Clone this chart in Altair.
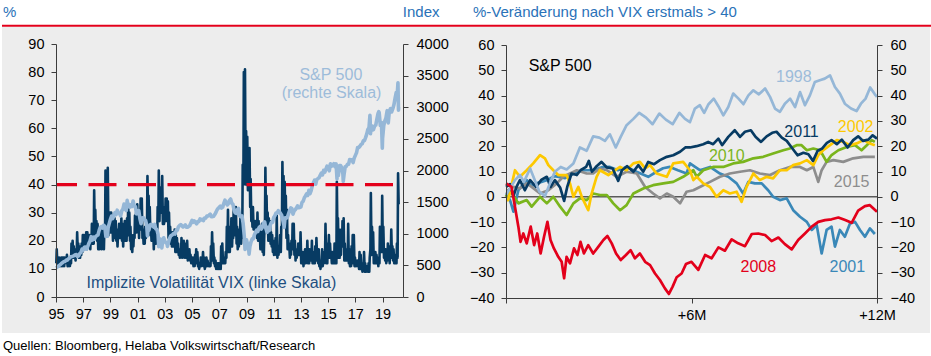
import altair as alt
import pandas as pd

FONT = "Liberation Sans"
NAVY = "#073b63"
LIGHT = "#95b7d7"
RED = "#e3001b"
YEL = "#fdc800"
GRN = "#7ab51d"
BLUE2 = "#3a88b8"
GRAY = "#8d8d8d"
TITLE_BLUE = "#2a72b8"

# ---------------- Left panel data ----------------
# VIX monthly low / high
vix_low = {
    1995: [12, 11, 11, 11, 11, 11, 11, 11, 12, 13, 11, 11],
    1996: [11, 12, 15, 14, 14, 13, 15, 16, 14, 14, 15, 16],
    1997: [17, 17, 18, 17, 18, 18, 17, 19, 19, 19, 22, 21],
    1998: [20, 17, 17, 18, 17, 19, 17, 22, 30, 25, 22, 23],
    1999: [23, 23, 20, 22, 21, 20, 18, 21, 21, 21, 20, 18],
    2000: [20, 20, 20, 23, 22, 20, 17, 16, 18, 21, 23, 23],
    2001: [24, 21, 25, 24, 21, 19, 19, 21, 25, 28, 24, 22],
    2002: [20, 21, 17, 20, 19, 20, 27, 27, 30, 30, 26, 26],
    2003: [27, 28, 27, 21, 20, 19, 18, 18, 19, 16, 16, 16],
    2004: [15, 14, 15, 14, 15, 14, 14, 14, 13, 14, 13, 12],
    2005: [12, 11, 11, 12, 12, 11, 10, 11, 11, 13, 11, 10],
    2006: [11, 11, 11, 11, 11, 15, 13, 12, 11, 10, 10, 10],
    2007: [10, 10, 14, 12, 12, 12, 14, 20, 16, 16, 18, 18],
    2008: [21, 22, 22, 19, 17, 18, 21, 19, 21, 40, 45, 40],
    2009: [40, 38, 40, 32, 27, 25, 24, 24, 23, 21, 20, 20],
    2010: [17, 19, 16, 15, 25, 26, 23, 20, 21, 19, 18, 16],
    2011: [15, 17, 15, 14, 15, 16, 16, 25, 31, 25, 27, 21],
    2012: [17, 17, 14, 15, 17, 17, 15, 13, 14, 15, 15, 15],
    2013: [12, 12, 11, 12, 12, 15, 12, 12, 13, 13, 12, 12],
    2014: [12, 13, 14, 12, 11, 10, 11, 11, 12, 14, 12, 12],
    2015: [16, 14, 14, 12, 12, 12, 12, 12, 20, 14, 14, 15],
    2016: [18, 19, 13, 13, 13, 14, 12, 11, 11, 13, 12, 11],
    2017: [11, 11, 11, 10, 10, 10, 9, 10, 9, 9, 9, 9],
    2018: [9, 17, 15, 16, 12, 12, 12, 12, 11, 12, 18, 16],
    2019: [16, 14, 13, 12, 13, 14, 12, 16, 14, 13, 12, 12],
    2020: [12, 14],
}
vix_high = {
    1995: [17, 14, 14, 13, 14, 14, 14, 14, 14, 15, 13, 13],
    1996: [14, 19, 20, 18, 16, 17, 23, 19, 17, 18, 19, 22],
    1997: [22, 22, 23, 23, 21, 22, 22, 26, 23, 38, 31, 27],
    1998: [26, 22, 21, 24, 22, 25, 24, 45, 42, 46, 30, 30],
    1999: [30, 29, 28, 28, 27, 24, 22, 26, 25, 28, 24, 26],
    2000: [27, 25, 28, 33, 30, 25, 22, 20, 22, 29, 30, 33],
    2001: [29, 28, 35, 35, 24, 23, 25, 27, 43, 36, 32, 26],
    2002: [25, 25, 22, 24, 25, 32, 45, 36, 39, 43, 32, 30],
    2003: [35, 35, 34, 30, 25, 22, 23, 22, 24, 22, 21, 19],
    2004: [17, 17, 21, 18, 20, 16, 19, 20, 16, 17, 15, 14],
    2005: [14, 13, 15, 17, 16, 12, 12, 14, 13, 16, 14, 12],
    2006: [14, 13, 12, 12, 18, 23, 19, 14, 13, 12, 12, 12],
    2007: [12, 18, 19, 14, 14, 16, 25, 31, 25, 21, 28, 23],
    2008: [31, 28, 32, 25, 19, 24, 29, 22, 47, 80, 81, 59],
    2009: [57, 47, 53, 42, 32, 32, 27, 27, 27, 30, 27, 24],
    2010: [25, 26, 20, 22, 46, 36, 30, 28, 27, 23, 22, 19],
    2011: [20, 21, 29, 16, 18, 22, 25, 48, 43, 41, 36, 31],
    2012: [22, 19, 17, 20, 26, 26, 20, 17, 17, 19, 19, 23],
    2013: [15, 16, 16, 17, 16, 20, 15, 17, 16, 20, 14, 16],
    2014: [18, 21, 17, 17, 13, 13, 17, 16, 16, 26, 14, 19],
    2015: [22, 19, 16, 16, 14, 19, 18, 41, 28, 24, 20, 24],
    2016: [27, 28, 19, 16, 17, 26, 17, 14, 18, 22, 22, 14],
    2017: [13, 13, 13, 16, 15, 12, 11, 16, 12, 11, 11, 12],
    2018: [14, 37, 25, 23, 16, 16, 15, 14, 14, 25, 22, 36],
    2019: [25, 17, 17, 14, 19, 18, 17, 24, 18, 17, 13, 15],
    2020: [19, 44],
}
vix_end_t = [2020.18]
vix_end_v = [33]
vix_threshold = 40

# S&P 500 month-end closes
spx_start = 459
spx_close = {
    1995: [470, 487, 501, 515, 533, 545, 562, 562, 584, 582, 605, 616],
    1996: [636, 640, 646, 654, 669, 671, 640, 652, 687, 705, 757, 741],
    1997: [786, 791, 757, 801, 848, 885, 954, 899, 947, 915, 955, 970],
    1998: [980, 1049, 1102, 1112, 1091, 1134, 1121, 957, 1017, 1099, 1164, 1229],
    1999: [1280, 1238, 1286, 1335, 1302, 1373, 1329, 1320, 1283, 1363, 1389, 1469],
    2000: [1394, 1366, 1499, 1452, 1421, 1455, 1431, 1518, 1437, 1429, 1315, 1320],
    2001: [1366, 1240, 1160, 1249, 1256, 1224, 1211, 1134, 1041, 1060, 1139, 1148],
    2002: [1130, 1107, 1147, 1077, 1067, 990, 912, 916, 815, 886, 936, 880],
    2003: [856, 841, 848, 917, 964, 975, 990, 1008, 996, 1051, 1058, 1112],
    2004: [1131, 1145, 1126, 1107, 1121, 1141, 1102, 1104, 1115, 1130, 1174, 1212],
    2005: [1181, 1204, 1181, 1157, 1192, 1191, 1234, 1220, 1229, 1207, 1249, 1248],
    2006: [1280, 1281, 1295, 1311, 1270, 1270, 1277, 1304, 1336, 1378, 1401, 1418],
    2007: [1438, 1407, 1421, 1482, 1531, 1503, 1455, 1474, 1527, 1549, 1481, 1468],
    2008: [1379, 1331, 1323, 1386, 1400, 1280, 1267, 1283, 1166, 969, 896, 903],
    2009: [826, 735, 798, 873, 919, 919, 987, 1021, 1057, 1036, 1096, 1115],
    2010: [1074, 1104, 1169, 1187, 1089, 1031, 1102, 1049, 1141, 1183, 1181, 1258],
    2011: [1286, 1327, 1326, 1364, 1345, 1321, 1292, 1219, 1131, 1253, 1247, 1258],
    2012: [1312, 1366, 1408, 1398, 1310, 1362, 1379, 1407, 1441, 1412, 1416, 1426],
    2013: [1498, 1515, 1569, 1598, 1631, 1606, 1686, 1633, 1682, 1757, 1806, 1848],
    2014: [1783, 1859, 1872, 1884, 1924, 1960, 1931, 2003, 1972, 2018, 2068, 2059],
    2015: [1995, 2105, 2068, 2086, 2107, 2063, 2104, 1972, 1920, 2079, 2080, 2044],
    2016: [1940, 1932, 2060, 2065, 2097, 2099, 2174, 2171, 2168, 2126, 2199, 2239],
    2017: [2279, 2364, 2363, 2384, 2412, 2423, 2470, 2472, 2519, 2575, 2648, 2674],
    2018: [2824, 2714, 2641, 2648, 2705, 2718, 2816, 2902, 2914, 2712, 2760, 2507],
    2019: [2704, 2784, 2834, 2946, 2752, 2942, 2980, 2926, 2977, 3038, 3141, 3231],
    2020: [3226, 2954],
}
spx_extra_t = [1998.78, 2000.23, 2001.72, 2002.55, 2002.78, 2003.19, 2008.89, 2009.19,
               2010.51, 2011.76, 2015.65, 2016.11, 2018.07, 2018.11, 2018.72, 2018.98,
               2020.13, 2020.18]
spx_extra_v = [960, 1527, 966, 797, 777, 800, 752, 677,
               1022, 1099, 1868, 1829, 2873, 2581, 2930, 2351,
               3386, 3003]

left_x_ticks = [1995, 1997, 1999, 2001, 2003, 2005, 2007, 2009, 2011, 2013, 2015, 2017, 2019]
left_y_ticks = [0, 10, 20, 30, 40, 50, 60, 70, 80, 90]
right_y_ticks_left_panel = [0, 500, 1000, 1500, 2000, 2500, 3000, 3500, 4000]

left_ann_text = ["S&P 500", "(rechte Skala)", "Implizite Volatilität VIX (linke Skala)"]
left_ann_t = [2015.2, 2015.25, 2006.42]
left_ann_v = [79.0, 72.5, 5.0]

# ---------------- Right panel data ----------------
# (months after VIX first > 40, % change)
s1998 = [(0.00, 0.7), (0.13, 3.3), (0.29, 6.6), (0.45, 8.6), (0.58, 5.9), (0.78, 11.2), (0.91, 7.2),
         (1.08, 2.0), (1.26, 0.3), (1.42, 5.3), (1.58, 9.9), (1.77, 11.8), (1.96, 10.8), (2.18, 13.2),
         (2.39, 19.5), (2.61, 18.2), (2.82, 23.9), (3.02, 23.4), (3.20, 22.1), (3.36, 24.7), (3.55, 19.5),
         (3.71, 23.7), (3.90, 28.3), (4.12, 30.8), (4.31, 33.2), (4.53, 31.3), (4.74, 28.7), (4.96, 32.9),
         (5.17, 30.5), (5.39, 28.7), (5.61, 33.2), (5.79, 30.8), (5.95, 29.5), (6.11, 34.9), (6.27, 36.2),
         (6.41, 33.2), (6.55, 36.6), (6.72, 38.8), (6.87, 35.8), (7.03, 32.2), (7.19, 35.5), (7.35, 40.8),
         (7.52, 38.8), (7.68, 36.6), (7.84, 40.1), (8.00, 42.1), (8.18, 40.5), (8.38, 42.8), (8.54, 39.5),
         (8.70, 34.9), (8.86, 33.6), (9.02, 36.8), (9.19, 38.8), (9.35, 35.5), (9.51, 41.4), (9.67, 36.2),
         (9.83, 40.1), (9.99, 45.4), (10.15, 46.1), (10.31, 46.7), (10.48, 48.0), (10.64, 43.4),
         (10.80, 40.8), (10.96, 36.8), (11.16, 34.9), (11.34, 33.9), (11.48, 36.8), (11.63, 38.8),
         (11.78, 43.2), (11.93, 40.5), (12.00, 39.5)]
s2001 = [(0.00, 1.3), (0.13, -1.3), (0.24, -5.9), (0.40, 2.6), (0.67, 6.6), (0.83, 4.2), (0.99, 5.3),
         (1.32, 6.6), (1.58, 8.2), (1.91, 7.4), (2.18, 9.2), (2.49, 10.5), (2.82, 10.5), (3.10, 11.7),
         (3.36, 11.8), (3.62, 10.5), (3.90, 11.8), (4.24, 9.8), (4.60, 7.9), (4.87, 9.9), (5.08, 11.3),
         (5.30, 11.8), (5.56, 10.5), (5.84, 9.2), (5.95, 13.2), (6.27, 10.5), (6.60, 11.8), (6.92, 9.2),
         (7.19, 7.9), (7.46, 5.3), (7.67, 1.3), (7.84, 5.9), (8.05, 5.3), (8.27, 5.3), (8.48, 2.6),
         (8.64, 0.0), (8.86, -1.3), (9.08, -0.6), (9.29, -5.3), (9.51, -7.9), (9.73, -9.9), (9.89, -13.1),
         (10.05, -11.2), (10.21, -22.4), (10.37, -13.1), (10.53, -11.8), (10.64, -19.7), (10.80, -13.1),
         (10.96, -15.8), (11.13, -10.5), (11.29, -9.9), (11.45, -13.1), (11.61, -15.8), (11.77, -12.5),
         (11.93, -14.7)]
s2002 = [(0.00, -1.3), (0.07, -1.3), (0.29, 10.5), (0.45, 7.9), (0.67, 10.5), (0.88, 13.2), (1.10, 16.5),
         (1.26, 15.2), (1.37, 12.5), (1.53, 10.5), (1.69, 8.6), (1.96, 8.6), (2.07, 5.3), (2.18, 0.0),
         (2.34, 3.9), (2.45, 0.0), (2.66, -5.3), (2.77, 1.3), (2.93, 7.9), (3.04, 10.5), (3.31, 8.6),
         (3.53, 10.5), (3.69, 11.8), (3.90, 10.5), (4.12, 13.2), (4.33, 13.8), (4.50, 11.2), (4.66, 12.5),
         (4.87, 9.2), (5.20, 7.9), (5.41, 13.2), (5.73, 13.8), (5.95, 10.5), (6.06, 6.6), (6.17, 7.9),
         (6.38, 5.3), (6.60, 3.9), (6.81, 0.0), (7.03, 2.6), (7.24, 1.3), (7.46, 2.0), (7.62, -2.0),
         (7.78, 3.9), (8.00, 9.2), (8.21, 6.6), (8.43, 7.9), (8.64, 7.3), (8.86, 10.5), (9.08, 10.5),
         (9.29, 12.5), (9.51, 13.2), (9.73, 14.5), (9.94, 12.5), (10.10, 16.5), (10.26, 18.4),
         (10.48, 20.4), (10.70, 22.4), (10.91, 21.7), (11.13, 20.4), (11.34, 21.1), (11.56, 22.4),
         (11.77, 21.1), (11.93, 20.4)]
s2008 = [(0.00, 5.3), (0.18, 3.9), (0.29, -3.9), (0.40, -11.8), (0.47, -17.8), (0.56, -14.5), (0.67, -18.4),
         (0.80, -11.8), (0.91, -19.1), (1.01, -14.5), (1.12, -22.4), (1.23, -15.8), (1.34, -9.9),
         (1.44, -17.1), (1.55, -20.4), (1.69, -23.7), (1.80, -25.7), (1.88, -32.2), (1.96, -23.7),
         (2.07, -26.3), (2.20, -20.4), (2.31, -23.0), (2.41, -17.8), (2.52, -22.4), (2.66, -19.1),
         (2.82, -22.4), (2.99, -19.7), (3.15, -17.1), (3.28, -15.5), (3.42, -18.4), (3.56, -22.4),
         (3.71, -25.0), (3.88, -23.0), (4.03, -21.1), (4.17, -24.3), (4.33, -22.4), (4.50, -25.7),
         (4.66, -27.0), (4.82, -30.3), (4.98, -32.9), (5.14, -36.2), (5.27, -38.4), (5.39, -35.5),
         (5.52, -31.8), (5.68, -30.3), (5.82, -26.6), (6.00, -25.7), (6.22, -28.9), (6.44, -23.0),
         (6.65, -24.3), (6.87, -20.0), (7.08, -21.3), (7.30, -16.8), (7.51, -18.4), (7.73, -19.5),
         (7.95, -14.7), (8.16, -14.5), (8.38, -15.1), (8.59, -17.5), (8.81, -16.1), (9.02, -18.7),
         (9.24, -20.8), (9.45, -17.1), (9.67, -14.5), (9.89, -11.8), (10.10, -9.9), (10.32, -9.2),
         (10.53, -8.9), (10.75, -8.2), (10.97, -9.2), (11.18, -10.3), (11.39, -5.5), (11.61, -3.7),
         (11.77, -3.3), (12.00, -5.9)]
s2010 = [(0.00, 0.0), (0.13, 2.6), (0.40, -2.6), (0.67, -1.3), (0.83, -3.9), (1.10, 0.0), (1.32, -2.6),
         (1.53, 0.0), (1.75, -3.9), (1.96, -7.2), (2.18, -2.6), (2.39, -0.6), (2.61, -1.3), (2.82, 1.3),
         (3.04, 0.7), (3.26, 0.7), (3.47, -2.6), (3.69, -5.3), (3.90, -3.3), (4.12, 1.3), (4.44, 3.3),
         (4.76, 4.6), (5.09, 5.3), (5.41, 5.9), (5.73, 7.9), (6.06, 10.5), (6.17, 7.9), (6.38, 10.5),
         (6.70, 11.8), (7.03, 11.8), (7.35, 13.2), (7.67, 13.8), (8.00, 15.2), (8.32, 15.8), (8.64, 17.1),
         (8.97, 18.4), (9.18, 19.1), (9.40, 20.4), (9.56, 20.4), (9.73, 18.4), (9.94, 19.1), (10.16, 18.4),
         (10.37, 13.8), (10.53, 16.5), (10.75, 18.4), (11.02, 19.7), (11.29, 20.4), (11.50, 18.4),
         (11.67, 20.4), (11.83, 22.4), (11.93, 21.7)]
s2011 = [(0.00, 3.9), (0.13, 5.0), (0.24, 0.3), (0.34, 3.9), (0.45, 6.6), (0.61, 2.6), (0.78, 6.6),
         (0.97, 3.9), (1.15, 6.8), (1.32, 7.9), (1.44, 3.9), (1.58, 6.6), (1.75, 3.7), (1.88, -1.6),
         (1.98, 3.9), (2.12, 9.2), (2.29, 8.6), (2.41, 10.5), (2.59, 11.8), (2.68, 14.2), (2.78, 9.9),
         (2.93, 12.1), (3.09, 13.8), (3.26, 11.6), (3.45, 11.2), (3.63, 6.3), (3.75, 10.5), (3.92, 12.1),
         (4.12, 9.9), (4.28, 12.5), (4.44, 9.9), (4.60, 13.8), (4.79, 12.9), (4.98, 14.5), (5.20, 15.8),
         (5.41, 16.4), (5.63, 17.8), (5.80, 19.5), (5.95, 19.5), (6.16, 20.0), (6.38, 20.8), (6.54, 21.7),
         (6.70, 20.8), (6.87, 23.0), (6.99, 20.4), (7.19, 23.7), (7.40, 26.3), (7.57, 23.7), (7.73, 25.7),
         (7.92, 26.3), (8.07, 23.7), (8.25, 21.7), (8.43, 23.9), (8.61, 25.3), (8.75, 25.7), (8.92, 23.4),
         (9.08, 22.1), (9.24, 19.5), (9.43, 16.4), (9.62, 17.4), (9.78, 16.8), (9.93, 14.2), (10.08, 18.2),
         (10.23, 19.1), (10.38, 21.3), (10.53, 22.4), (10.70, 20.8), (10.86, 22.6), (11.05, 19.5),
         (11.23, 22.4), (11.39, 23.9), (11.55, 22.1), (11.72, 22.6), (11.86, 24.3), (12.00, 23.0)]
s2015 = [(0.00, 0.0), (0.06, 2.6), (0.24, 3.9), (0.45, 3.3), (0.67, 5.3), (0.83, 3.9), (1.10, 1.3),
         (1.37, 2.6), (1.64, 5.3), (1.85, 7.9), (2.07, 9.2), (2.29, 10.5), (2.61, 9.2), (2.82, 9.2),
         (3.04, 11.2), (3.26, 10.5), (3.58, 7.9), (3.90, 9.9), (4.23, 9.2), (4.50, 3.9), (4.76, 1.3),
         (4.98, -0.6), (5.20, 1.3), (5.41, 0.0), (5.63, -2.6), (5.84, 2.0), (6.06, 2.6), (6.27, 3.9),
         (6.60, 5.9), (6.92, 7.9), (7.24, 9.2), (7.57, 9.9), (7.89, 10.5), (8.21, 9.2), (8.54, 8.6),
         (8.86, 10.5), (9.18, 11.8), (9.51, 11.8), (9.73, 10.5), (9.94, 11.8), (10.10, 5.9), (10.21, 10.5),
         (10.37, 13.8), (10.59, 14.5), (10.91, 13.8), (11.23, 15.2), (11.56, 15.8), (11.93, 15.8)]

right_x_ticks = [0, 6, 12]
right_y_ticks = [-40, -30, -20, -10, 0, 10, 20, 30, 40, 50, 60]

right_lab_text = ["S&P 500", "1998", "2011", "2002", "2010", "2015", "2008", "2001"]
right_lab_m = [1.75, 9.31, 9.56, 11.31, 7.14, 11.18, 8.16, 11.04]
right_lab_v = [51.6, 47.4, 25.7, 27.6, 16.1, 5.9, -27.9, -27.9]
right_lab_colors = ["#000000", "#9dbcda", NAVY, YEL, GRN, GRAY, RED, BLUE2]

# ---------------- build tables ----------------
vix_rows = []
for yr in sorted(vix_low):
    for mi, (lo, hi) in enumerate(zip(vix_low[yr], vix_high[yr])):
        base = yr + mi / 12
        vix_rows.append((base + 0.25 / 12, lo))
        vix_rows.append((base + 0.65 / 12, hi))
vix_rows += list(zip(vix_end_t, vix_end_v))
vix_df = pd.DataFrame(vix_rows, columns=["t", "v"])

spx_rows = [(1995.0, spx_start)]
for yr in sorted(spx_close):
    for mi, v in enumerate(spx_close[yr]):
        spx_rows.append((yr + (mi + 1) / 12, v))
spx_rows += list(zip(spx_extra_t, spx_extra_v))
spx_df = pd.DataFrame(spx_rows, columns=["t", "v"])

left_ann_df = pd.DataFrame({"label": left_ann_text, "t": left_ann_t, "v": left_ann_v})
right_lab_df = pd.DataFrame({"label": right_lab_text, "m": right_lab_m, "v": right_lab_v})
zero_df = pd.DataFrame({"m0": [0], "m1": [12], "v": [0]})
one = pd.DataFrame({"k": [0]})

# ---------------- scales (plot areas inside the 931x356 canvas) ----------------
xL = alt.Scale(domain=[1995, 2020.5], range=[56, 403], nice=False, zero=False)
yVIX = alt.Scale(domain=[0, 90], range=[297, 44], nice=False, zero=False)
ySPX = alt.Scale(domain=[0, 4000], range=[297, 44], nice=False, zero=False)
xR = alt.Scale(domain=[0, 12], range=[506, 877], nice=False, zero=False)
yR = alt.Scale(domain=[-40, 60], range=[298, 45], nice=False, zero=False)


def axis(orient, offset, values, pad, label_expr=None):
    kw = dict(orient=orient, offset=offset, values=values, grid=False, format="d",
              domainColor="#3c3c3c", domainWidth=1, tickColor="#3c3c3c", tickWidth=1,
              tickSize=5, labelPadding=pad, labelFont=FONT, labelFontSize=14.5,
              labelColor="#000000", title=None, zindex=1, labelOverlap=False,
              labelFlush=False)
    if label_expr:
        kw["labelExpr"] = label_expr
    return alt.Axis(**kw)


def fixed_text(text, x, y, align="left", size=15, color=TITLE_BLUE):
    return alt.Chart(one).mark_text(
        text=text, align=align, baseline="middle", font=FONT, fontSize=size, color=color
    ).encode(x=alt.value(x), y=alt.value(y))


bg = alt.Chart(one).mark_rect(color="#ededed").encode(
    x=alt.value(2), x2=alt.value(930), y=alt.value(27), y2=alt.value(333))
topline = alt.Chart(one).mark_rule(color=RED, strokeWidth=2).encode(
    x=alt.value(2), x2=alt.value(931), y=alt.value(25.7))

t_pct = fixed_text("%", 3, 12)
t_index = fixed_text("Index", 439.5, 12, align="right")
t_right = fixed_text("%-Veränderung nach VIX erstmals > 40", 473, 12)
t_src = fixed_text("Quellen: Bloomberg, Helaba Volkswirtschaft/Research", 3, 345.5,
                   size=13, color="#000000")

# ---------------- left panel ----------------
vix_line = alt.Chart(vix_df).mark_line(color=NAVY, strokeWidth=2.6, strokeJoin="round").encode(
    x=alt.X("t:Q", scale=xL,
            axis=axis("bottom", -59, left_x_ticks, 5,
                      "substring(toString(datum.value), 2, 4)")),
    y=alt.Y("v:Q", scale=yVIX, axis=axis("left", -56, left_y_ticks, 7)),
)
spx_line = alt.Chart(spx_df).mark_line(color=LIGHT, strokeWidth=3.6, strokeJoin="round").encode(
    x=alt.X("t:Q", scale=xL, axis=None),
    y=alt.Y("v:Q", scale=ySPX, axis=axis("right", -528, right_y_ticks_left_panel, 8)),
)
thr = alt.Chart(one).mark_rule(color=RED, strokeWidth=3.3, strokeDash=[28, 11.5],
                               strokeDashOffset=7).encode(
    x=alt.X(datum=1995, scale=xL, axis=None),
    x2=alt.X2(datum=2020.3),
    y=alt.Y(datum=vix_threshold, scale=yVIX, axis=None),
)
left_ann = alt.Chart(left_ann_df).mark_text(
    font=FONT, fontSize=16, align="center", baseline="middle").encode(
    x=alt.X("t:Q", scale=xL, axis=None),
    y=alt.Y("v:Q", scale=yVIX, axis=None),
    text="label:N",
    color=alt.Color("label:N", scale=alt.Scale(domain=left_ann_text,
                                               range=["#9dbcda", "#9dbcda", "#1d4f80"]),
                    legend=None),
)

# ---------------- right panel ----------------
zero_rule = alt.Chart(zero_df).mark_rule(color="#5a5a5a", strokeWidth=1.5).encode(
    x=alt.X("m0:Q", scale=xR, axis=None), x2="m1:Q",
    y=alt.Y("v:Q", scale=yR, axis=None),
)


def series_layer(pairs, color, with_axes=False):
    df = pd.DataFrame(pairs, columns=["m", "v"])
    if with_axes:
        xax = axis("bottom", -58, right_x_ticks, 5,
                   "datum.value == 6 ? '+6M' : (datum.value == 12 ? '+12M' : '')")
        yax = axis("left", -506, right_y_ticks, 7)
        return alt.Chart(df).mark_line(color=color, strokeWidth=2.7, strokeJoin="round").encode(
            x=alt.X("m:Q", scale=xR, axis=xax), y=alt.Y("v:Q", scale=yR, axis=yax))
    return alt.Chart(df).mark_line(color=color, strokeWidth=2.7, strokeJoin="round").encode(
        x=alt.X("m:Q", scale=xR, axis=None), y=alt.Y("v:Q", scale=yR, axis=None))


l2001 = series_layer(s2001, BLUE2, with_axes=True)
l2015 = series_layer(s2015, GRAY)
l2010 = series_layer(s2010, GRN)
l2002 = series_layer(s2002, YEL)
l2011 = series_layer(s2011, NAVY)
l1998 = series_layer(s1998, LIGHT)
l2008 = series_layer(s2008, RED)

right_labels = alt.Chart(right_lab_df).mark_text(
    font=FONT, fontSize=16, align="center", baseline="middle").encode(
    x=alt.X("m:Q", scale=xR, axis=None),
    y=alt.Y("v:Q", scale=yR, axis=axis("right", -54, right_y_ticks, 8)),
    text="label:N",
    color=alt.Color("label:N", scale=alt.Scale(domain=right_lab_text, range=right_lab_colors),
                    legend=None),
)

chart = alt.layer(
    bg, topline, t_pct, t_index, t_right, t_src,
    vix_line, spx_line, thr, left_ann,
    zero_rule, l2001, l2015, l2010, l2002, l2011, l1998, l2008, right_labels,
).resolve_scale(
    x="independent", y="independent", color="independent"
).properties(
    width=931, height=356, padding=0, background="white",
    autosize=alt.AutoSizeParams(type="none"),
).configure_view(strokeWidth=0)

chart.save("out.html", embed_options={"renderer": "svg", "actions": False})
